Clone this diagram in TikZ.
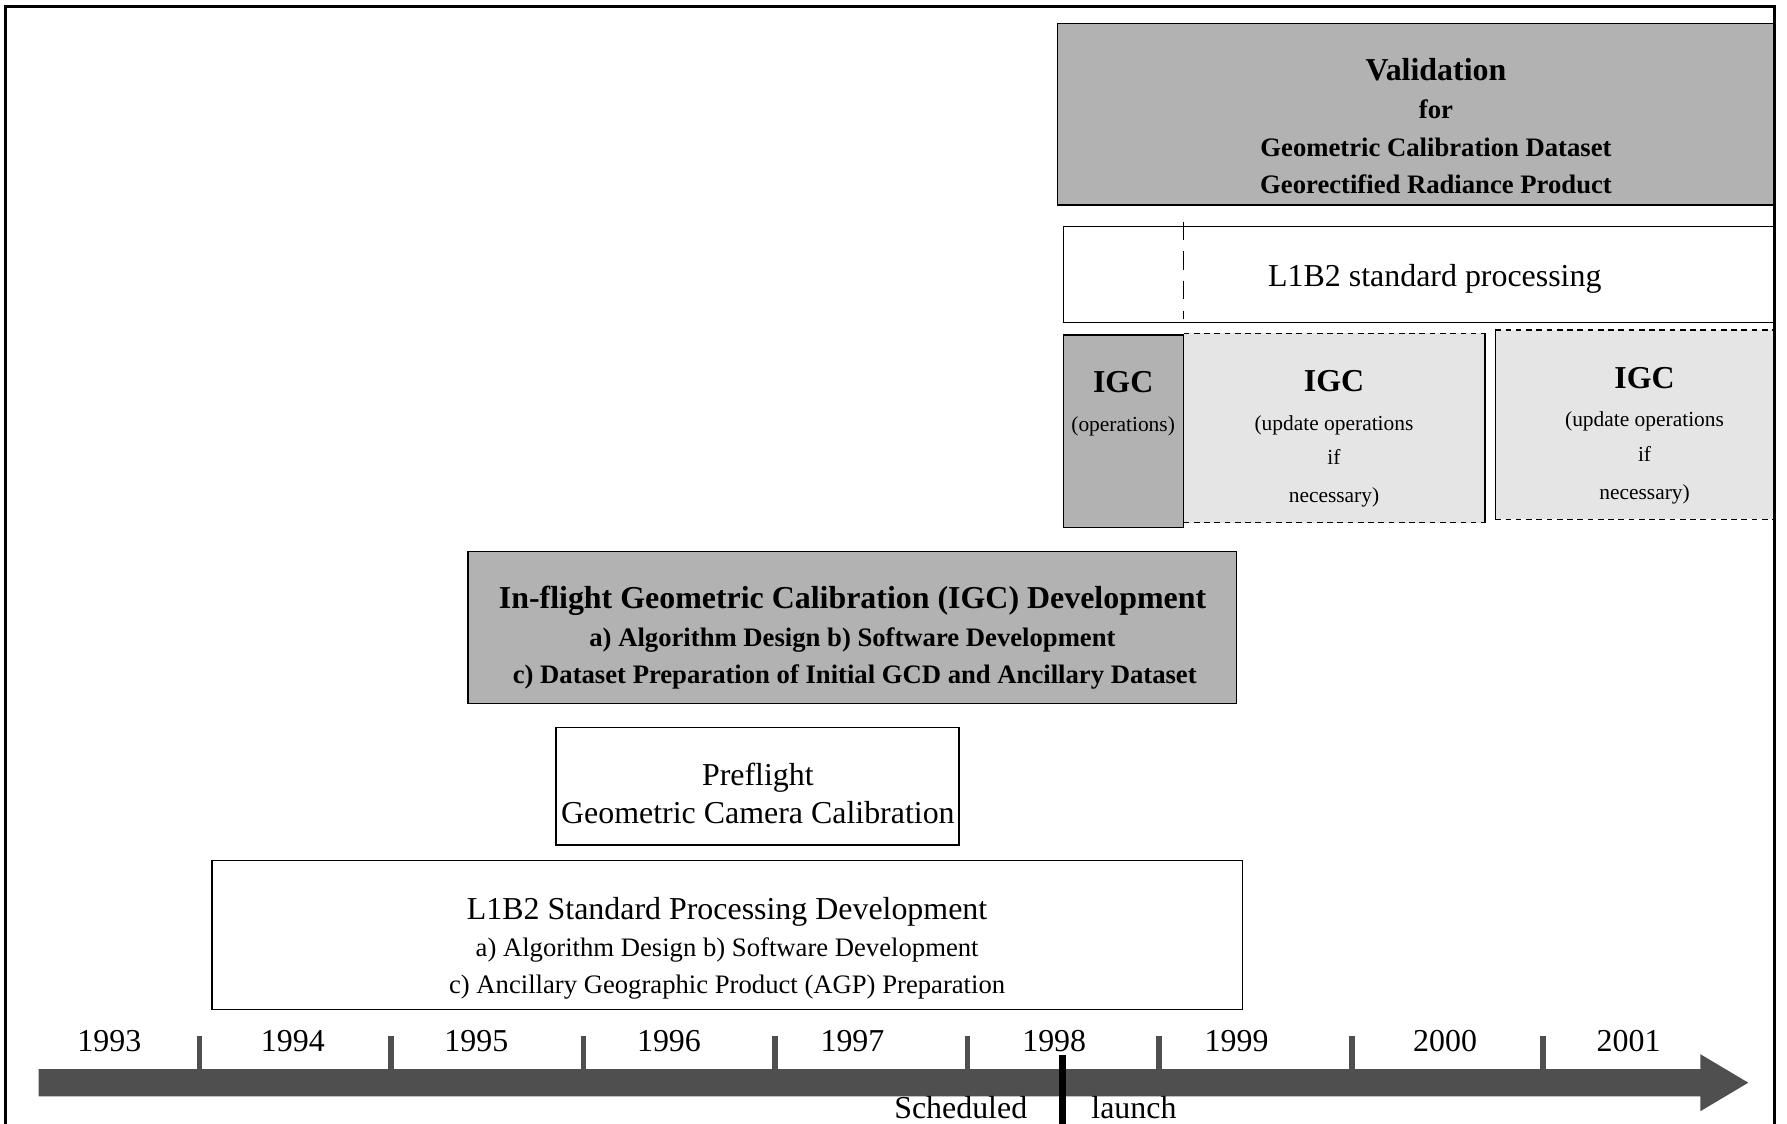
\documentclass[tikz,border=0pt]{standalone}
\usepackage{fontspec}
\setmainfont{Liberation Serif}
\usetikzlibrary{fit}
\definecolor{boxgray}{gray}{0.70}
\definecolor{palegray}{gray}{0.90}
\definecolor{axisgray}{gray}{0.31}

\begin{document}
\begin{tikzpicture}[x=0.5pt,y=-0.5pt,
  box/.style={draw=black, line width=0.6pt, inner sep=0pt, outer sep=0pt},
  graybox/.style={box, fill=boxgray},
  whitebox/.style={box, fill=white},
  palebox/.style={fill=palegray, inner sep=0pt, outer sep=0pt},
  dashedge/.style={line width=0.6pt, dash pattern=on 2.5pt off 2pt},
  tbig/.style={anchor=base, inner sep=0pt, font=\fontsize{14}{16}\selectfont},
  tbigb/.style={anchor=base, inner sep=0pt, font=\fontsize{14}{16}\selectfont\bfseries},
  tmid/.style={anchor=base, inner sep=0pt, font=\fontsize{11.7}{14}\selectfont},
  tmidb/.style={anchor=base, inner sep=0pt, font=\fontsize{11.7}{14}\selectfont\bfseries},
  tsmall/.style={anchor=base, inner sep=0pt, font=\fontsize{9.4}{11}\selectfont},
  tick/.style={fill=axisgray},
]
% page and frame
\useasboundingbox (0,0) rectangle (1568,986);
\fill[white] (0,0) rectangle (1568,986);

% ---- validation block
\node[graybox, fit={(928,20.5) (1557,180)}] (valid) {};
\node[tbigb] (validA) at (1260,71) {Validation};
\node[tmidb] (validB) at (1260,104) {for};
\node[tmidb] (validC) at (1260,137.5) {Geometric Calibration Dataset};
\node[tmidb] (validD) at (1260,169.5) {Georectified Radiance Product};

% ---- L1B2 standard processing
\node[whitebox, fit={(933,199) (1557,283)}] (stdproc) {};
\coordinate (splitTop) at (1038.5,194.5);
\coordinate (splitBot) at (1038.5,280);
\draw[line width=0.6pt, dash pattern=on 8pt off 5pt] (splitTop) -- (splitBot);
\node[tbig] (stdprocT) at (1259,251.5) {L1B2 standard processing};

% ---- IGC operations
\node[graybox, fit={(933,294) (1038.5,462.6)}] (igcops) {};
\node[tbigb] (igcopsA) at (985.5,344.5) {IGC};
\node[tsmall] (igcopsB) at (985.5,378.8) {(operations)};

% ---- IGC update operations (two periods)
\node[palebox, fit={(1038.5,292.5) (1303,458.6)}] (upd1) {};
\draw[dashedge] (upd1.north west) -- (upd1.north east);
\draw[dashedge] (upd1.south west) -- (upd1.south east);
\draw[line width=0.6pt] (upd1.north east) -- (upd1.south east);
\node[tbigb] (upd1A) at (1170.5,343.7) {IGC};
\node[tsmall] (upd1B) at (1170.5,377.3) {(update operations};
\node[tsmall] (upd1C) at (1170.5,408) {if};
\node[tsmall] (upd1D) at (1170.5,441) {necessary)};

\node[palebox, fit={(1312,289.6) (1557,455.6)}] (upd2) {};
\draw[dashedge] (upd2.north west) -- (upd2.north east);
\draw[dashedge] (upd2.south west) -- (upd2.south east);
\draw[line width=0.6pt] (upd2.north west) -- (upd2.south west);
\node[tbigb] (upd2A) at (1443,340.7) {IGC};
\node[tsmall] (upd2B) at (1443,374.4) {(update operations};
\node[tsmall] (upd2C) at (1443,405) {if};
\node[tsmall] (upd2D) at (1443,438.7) {necessary)};

% ---- In-flight geometric calibration development
\node[graybox, fit={(410.5,484) (1085,617)}] (igcdev) {};
\node[tbigb] (igcdevA) at (748,533.8) {In-flight Geometric Calibration (IGC) Development};
\node[tmidb] (igcdevB) at (748,567.4) {a) Algorithm Design b) Software Development};
\node[tmidb] (igcdevC) at (750,599.6) {c) Dataset Preparation of Initial GCD and Ancillary Dataset};

% ---- Preflight calibration
\node[whitebox, fit={(488,638.5) (841.6,741.4)}] (prefl) {};
\node[tbig] (preflA) at (665,688.8) {Preflight};
\node[tbig] (preflB) at (665,722.4) {Geometric Camera Calibration};

% ---- L1B2 standard processing development
\node[whitebox, fit={(186,755) (1090,886)}] (stddev) {};
\node[tbig] (stddevA) at (638,807) {L1B2 Standard Processing Development};
\node[tmid] (stddevB) at (638,839.5) {a) Algorithm Design b) Software Development};
\node[tmid] (stddevC) at (638,872) {c) Ancillary Geographic Product (AGP) Preparation};

% ---- time axis
\foreach \tx in {175,343,512,680,849,1017,1186,1354}
  \fill[tick] (\tx-2.5,909) rectangle (\tx+2.5,940);
\fill[axisgray] (34,938) -- (1492,938) -- (1492,925) -- (1534,950)
  -- (1492,975) -- (1492,962) -- (34,962) -- cycle;
\foreach \yr/\yx in {1993/96,1994/257,1995/418,1996/587,1997/748,
                     1998/925,1999/1085,2000/1268,2001/1429}
  \node[tbig] (y\yr) at (\yx,922.5) {\yr};

% launch marker
\fill[black] (929.5,926) rectangle (935.5,986);
\node[tbig] (sched) at (843,981) {Scheduled};
\node[tbig] (launch) at (995,981) {launch};

% outer frame (open at the bottom)
\draw[line width=1.3pt] (5,986) -- (5,5.3) -- (1557,5.3) -- (1557,986);
\end{tikzpicture}
\end{document}
